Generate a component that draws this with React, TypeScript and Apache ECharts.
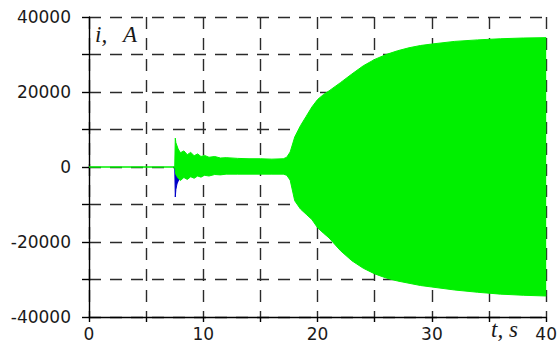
import React, { useEffect, useRef } from "react";
import * as echarts from "echarts";

// time (s)
const times = [0, 7.5, 7.55, 7.6, 7.8, 8.0, 8.3, 8.6, 8.9, 9.2, 9.5, 9.8, 10.1, 10.5, 11, 11.5, 12, 13, 14, 15, 16, 17, 17.3, 17.6, 18, 18.5, 19, 19.5, 20, 20.5, 21, 22, 23, 24, 25, 26, 27, 28, 29, 30, 32, 34, 36, 38, 40];
// upper envelope of current (A)
const upperEnv = [0, 0, 7700, 6500, 4800, 3800, 4300, 3300, 3900, 3000, 3500, 2800, 3100, 2600, 2800, 2400, 2500, 2300, 2200, 2200, 2100, 2200, 2600, 4000, 8000, 11000, 13500, 16000, 18000, 19300, 20300, 22500, 24800, 27000, 28700, 30000, 31000, 31800, 32400, 32800, 33500, 33900, 34200, 34400, 34500];
// lower envelope of current (A)
const lowerEnv = [0, 0, -1000, -2000, -3000, -3600, -2800, -3300, -2600, -3000, -2400, -2700, -2200, -2400, -2000, -2100, -1900, -1900, -1900, -1900, -1900, -1900, -2200, -3500, -9000, -11200, -12600, -14000, -16200, -17600, -18900, -22300, -25000, -27000, -28500, -29600, -30400, -31000, -31600, -32000, -32800, -33400, -33900, -34200, -34400];
// blue phase spike
const blueTimes = [7.5, 7.55, 7.6, 7.7, 7.8, 7.9, 8.0];
const blueValues = [0, -8000, -6000, -4500, -3800, -3300, -2800];

const xTicks = { min: 0, max: 40, step: 5, labelEvery: 10 };
const yTicks = { min: -40000, max: 40000, step: 10000, labelEvery: 20000 };

const GREEN = "#00f000";
const BLUE = "#0000c8";

export default function App() {
  const ref = useRef<HTMLDivElement>(null);
  useEffect(() => {
    if (!ref.current) return;
    const chart = echarts.init(ref.current, null, { renderer: "svg" });
    const upperData = times.map((t, i) => [t, upperEnv[i]]);
    const lowerData = times.map((t, i) => [t, lowerEnv[i]]);
    const blueData = blueTimes.map((t, i) => [t, blueValues[i]]);
    const gridLine = { show: true, lineStyle: { color: "#2a2a2a", width: 1.4, type: [12, 9] as any } };
    const labelStyle = { color: "#1a1a1a", fontFamily: "DejaVu Sans", fontSize: 17 };
    const italic = { fontFamily: "Liberation Serif", fontStyle: "italic", fontSize: 23, fill: "#1a1a1a" };
    chart.setOption({
      animation: false,
      backgroundColor: "#ffffff",
      grid: { left: 89, right: 11, top: 17, bottom: 28 },
      xAxis: {
        type: "value",
        min: xTicks.min,
        max: xTicks.max,
        interval: xTicks.step,
        axisLine: { show: true, onZero: false, lineStyle: { color: "#000", width: 1.4 } },
        axisTick: { show: true, length: 5, lineStyle: { color: "#000", width: 1.4 } },
        axisLabel: {
          ...labelStyle,
          margin: 8,
          formatter: (v: number) => (v % xTicks.labelEvery === 0 ? String(v) : ""),
        },
        splitLine: gridLine,
      },
      yAxis: {
        type: "value",
        min: yTicks.min,
        max: yTicks.max,
        interval: yTicks.step,
        axisLine: { show: true, onZero: false, lineStyle: { color: "#000", width: 1.4 } },
        axisTick: { show: true, length: 7, lineStyle: { color: "#000", width: 1.4 } },
        axisLabel: {
          ...labelStyle,
          margin: 18,
          formatter: (v: number) => (v % yTicks.labelEvery === 0 ? String(v) : ""),
        },
        splitLine: gridLine,
      },
      graphic: [
        { type: "text", left: 95, top: 23, style: { text: "i,", ...italic } },
        { type: "text", left: 123, top: 23, style: { text: "A", ...italic } },
        { type: "text", left: 491, top: 318, style: { text: "t,", ...italic } },
        { type: "text", left: 509, top: 318, style: { text: "s", ...italic } },
      ],
      series: [
        {
          type: "line",
          data: blueData,
          showSymbol: false,
          lineStyle: { color: BLUE, width: 1 },
          areaStyle: { color: BLUE, opacity: 1, origin: 0 },
          z: 2,
        },
        {
          type: "line",
          data: upperData,
          showSymbol: false,
          lineStyle: { color: GREEN, width: 1 },
          areaStyle: { color: GREEN, opacity: 1, origin: 0 },
          z: 3,
        },
        {
          type: "line",
          data: lowerData,
          showSymbol: false,
          lineStyle: { color: GREEN, width: 1 },
          areaStyle: { color: GREEN, opacity: 1, origin: 0 },
          z: 3,
        },
      ],
    });
    return () => chart.dispose();
  }, []);
  return <div ref={ref} style={{ position: "fixed", left: 0, top: 0, width: 560, height: 345 }} />;
}
